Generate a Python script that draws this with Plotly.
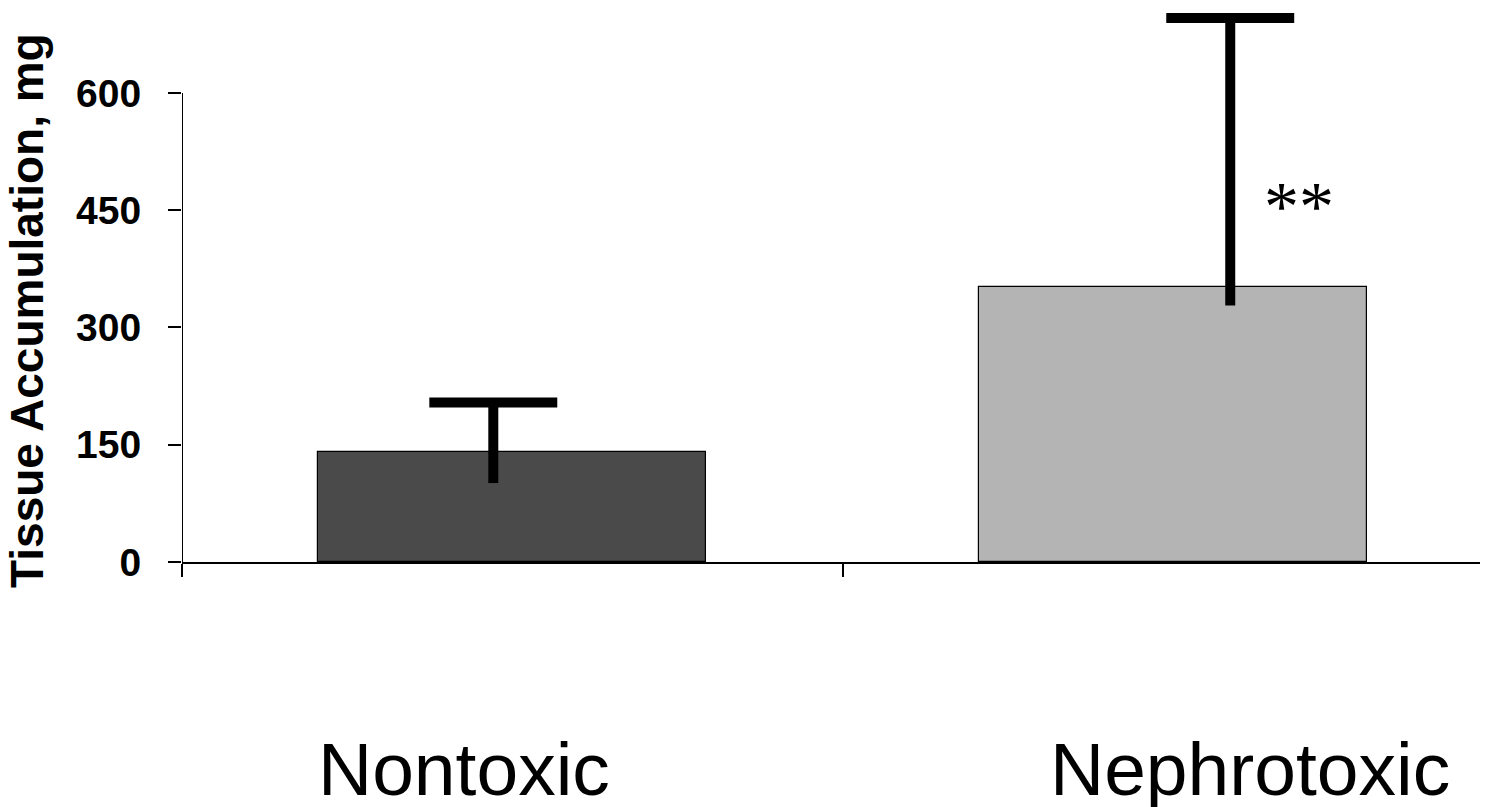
import plotly.graph_objects as go

# ---- data ----
categories = ["Nontoxic", "Nephrotoxic"]
means = [141, 352]
err_plus = [63, 344]
err_minus = [40, 24]
y_ticks = [0, 150, 300, 450, 600]
y_title = "Tissue Accumulation, mg"
signif_text = "**"

# ---- style / positions ----
bar_colors = ["#4a4a4a", "#b4b4b4"]
bar_width = 0.587
err_x_offset = [-0.029, 0.086]
label_x_offset = [-0.074, 0.116]
signif_x_offset = 0.19
signif_y_value = 455
x_range = [-0.5, 1.476]
y_range = [0, 708.7]

xs = list(range(len(categories)))

fig = go.Figure()

fig.add_trace(go.Bar(
    x=xs, y=means, width=bar_width,
    marker=dict(color=bar_colors, line=dict(color="black", width=1.2)),
    showlegend=False, hoverinfo="skip",
))

err_x = [x + o for x, o in zip(xs, err_x_offset)]
# error stems (no caps)
fig.add_trace(go.Scatter(
    x=err_x, y=means, mode="markers",
    marker=dict(size=1, opacity=0),
    error_y=dict(type="data", symmetric=False, array=err_plus, arrayminus=err_minus,
                 width=0, thickness=10, color="black"),
    showlegend=False, hoverinfo="skip", cliponaxis=False,
))
# top caps only
cap_y = [m + p for m, p in zip(means, err_plus)]
fig.add_trace(go.Scatter(
    x=err_x, y=cap_y, mode="markers",
    marker=dict(symbol="line-ew", size=91.4, color="black",
                line=dict(color="black", width=10)),
    showlegend=False, hoverinfo="skip", cliponaxis=False,
))

# y-axis line only up to the top tick
fig.add_shape(type="line", xref="x", yref="y", x0=x_range[0], x1=x_range[0],
              y0=y_ticks[0], y1=y_ticks[-1], line=dict(color="black", width=2))

# category labels
for x, lab, off in zip(xs, categories, label_x_offset):
    fig.add_annotation(x=x + off, xref="x", y=-0.3736, yref="paper", yanchor="middle",
                       xanchor="center", text=lab, showarrow=False,
                       font=dict(family="Liberation Sans, Arial", size=75, color="black"))

# y title
fig.add_annotation(text=f"<b>{y_title}</b>", textangle=-90, xref="paper", yref="paper",
                   x=-0.1187, y=0.4549, xanchor="center", yanchor="middle", showarrow=False,
                   font=dict(family="Liberation Sans, Arial", size=46, color="black"))

# significance marker
fig.add_annotation(text=signif_text, x=xs[1] + signif_x_offset, y=signif_y_value,
                   xref="x", yref="y", showarrow=False, xanchor="center", yanchor="middle",
                   font=dict(family="Liberation Serif, Times New Roman", size=70, color="black"))

fig.update_layout(
    width=1480, height=799,
    margin=dict(l=174, r=0, t=0, b=245, autoexpand=False),
    paper_bgcolor="white", plot_bgcolor="white",
    bargap=0,
)
fig.update_xaxes(range=x_range, showline=True, linecolor="black", linewidth=2,
                 ticks="outside", ticklen=13, tickwidth=2, tickcolor="black",
                 tickvals=[-0.5, 0.5, 1.5], showticklabels=False,
                 showgrid=False, zeroline=False, fixedrange=True)
fig.update_yaxes(range=y_range, showline=False, ticks="outside", ticklen=13, tickwidth=2,
                 tickcolor="black", tickvals=y_ticks, ticktext=[f"<b>{t}</b>" for t in y_ticks],
                 tickfont=dict(family="Liberation Sans, Arial", size=39, color="black"),
                 ticklabelstandoff=19,
                 showgrid=False, zeroline=False, fixedrange=True)

fig.write_html("out.html")
